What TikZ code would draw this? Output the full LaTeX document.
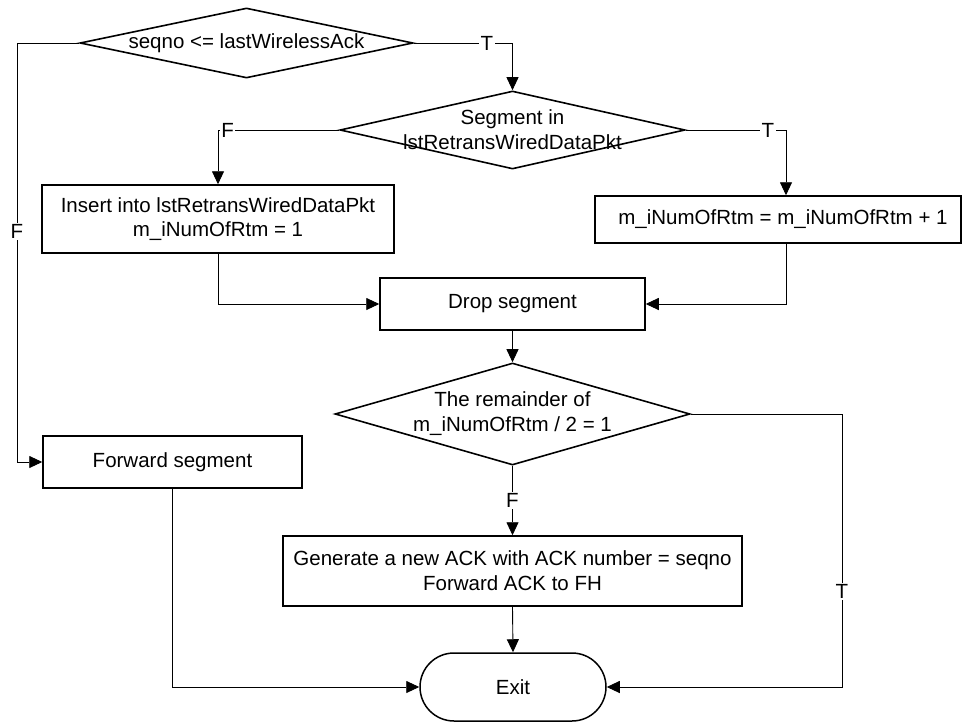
\documentclass[tikz,border=0pt]{standalone}
\usepackage{fontspec}
\setmainfont{Liberation Sans}
\usetikzlibrary{shapes.geometric,shapes.misc,arrows.meta}
\begin{document}
\begin{tikzpicture}[x=1pt,y=-1pt,
  every node/.style={font=\fontsize{20.5}{24}\selectfont},
  dia/.style={draw, diamond, inner sep=0pt, line width=1.6pt},
  box/.style={draw, rectangle, inner sep=0pt, line width=1.5pt, align=center},
  term/.style={draw, rounded rectangle, inner sep=0pt, line width=1.5pt},
  conn/.style={line width=0.9pt},
  arr/.style={conn, -{Triangle[length=13pt,width=12pt]}},
  lab/.style={fill=white, inner sep=1.5pt}
]
\useasboundingbox (0,0) rectangle (964,723);

% decisions
\node[dia, minimum width=333, minimum height=70,
  label={[font=\fontsize{20.5}{24}\selectfont]center:seqno <= lastWirelessAck}] (d1) at (246.5,43) {};
\node[dia, minimum width=345, minimum height=78,
  label={[align=center,font=\fontsize{20.5}{25}\selectfont]center:Segment in\\lstRetransWiredDataPkt}] (d2) at (512.5,130) {};
\node[dia, minimum width=355, minimum height=102,
  label={[align=center,font=\fontsize{20.5}{25}\selectfont]center:The remainder of\\m\_iNumOfRtm / 2 = 1}] (d3) at (512.5,414) {};

% processes
\node[box, minimum width=352, minimum height=68] (bl) at (218,219)
  {Insert into lstRetransWiredDataPkt\\m\_iNumOfRtm = 1};
\node[box, minimum width=366, minimum height=47] (br) at (778,219.5)
  {\hspace*{10pt}m\_iNumOfRtm = m\_iNumOfRtm + 1};
\node[box, minimum width=265, minimum height=52] (drop) at (512.5,304) {Drop segment};
\node[box, minimum width=259, minimum height=52] (fwd) at (172.5,462) {Forward segment};
\node[box, minimum width=459, minimum height=70, font=\fontsize{20.5}{25}\selectfont] (gen) at (512.5,571)
  {Generate a new ACK with ACK number = seqno\\Forward ACK to FH};
\node[term, minimum width=186, minimum height=68] (exit) at (513,687) {Exit};

% helper coordinates
\coordinate (k1) at (17,43);
\coordinate (k3) at (842,414);

% connectors
\draw[arr] (d1.east) -| node[lab, pos=0.37] {T} (d2.north);
\draw[arr] (d1.west) -- (k1) -- node[lab, pos=0.45] {F} (k1 |- fwd.west) -- (fwd.west);
\draw[arr] (d2.west) -| node[lab, pos=0.46] {F} (bl.north);
\draw[arr] (d2.east) -| node[lab, pos=0.41] {T} ([xshift=8]br.north);
\draw[arr] (bl.south) |- (drop.west);
\draw[arr] ([xshift=8]br.south) |- (drop.east);
\draw[arr] (drop.south) -- (d3.north);
\draw[arr] (d3.south) -- node[lab] {F} (gen.north);
\draw[arr] (d3.east) -- (k3) -- node[lab, pos=0.65] {T} (k3 |- exit.east) -- (exit.east);
\draw[arr] (gen.south) -- (exit.north);
\draw[arr] (fwd.south) |- (exit.west);
\end{tikzpicture}
\end{document}
